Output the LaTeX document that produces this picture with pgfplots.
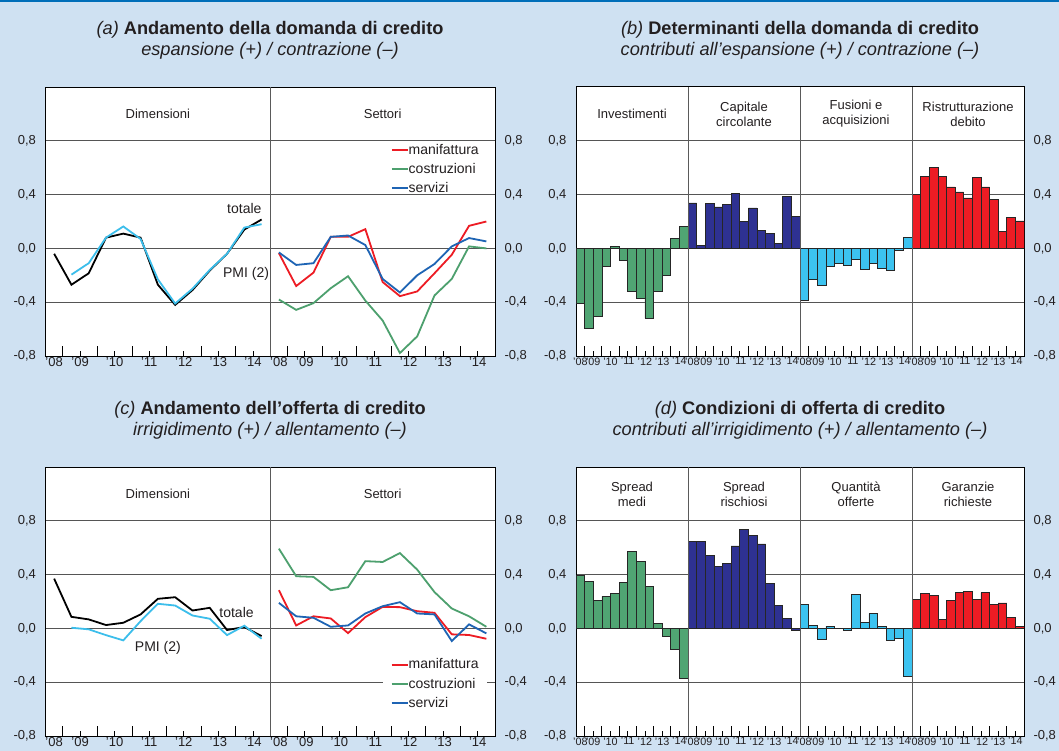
\documentclass[border=0pt]{standalone}
\usepackage{fontspec}
\setmainfont{Liberation Sans}
\usepackage{pgfplots}
\pgfplotsset{compat=1.18}
\definecolor{bgc}{RGB}{207,225,242}
\definecolor{topc}{RGB}{0,110,185}
\definecolor{gridc}{RGB}{85,85,85}
\definecolor{divc}{RGB}{90,90,90}
\definecolor{mred}{RGB}{237,28,36}
\definecolor{mgreen}{RGB}{77,160,110}
\definecolor{mblue}{RGB}{30,100,180}
\definecolor{pmic}{RGB}{60,190,235}
\definecolor{bgreen}{RGB}{80,165,115}
\definecolor{bdblue}{RGB}{46,49,146}
\definecolor{blblue}{RGB}{60,195,240}
\definecolor{bred}{RGB}{237,28,36}
\definecolor{txt}{RGB}{35,31,32}
\newcommand{\fsz}[2]{\fontsize{#1pt}{#2pt}\selectfont}
\tikzset{hdr/.style={font=\fsz{13}{15}, align=center, text=txt},
         tk/.style={black, line width=0.8pt}}
\newcommand{\longticks}[1]{\pgfplotsinvokeforeach{#1}{\draw[tk] (axis cs:##1,-0.8) -- (axis cs:##1,-0.726);}}
\newcommand{\shortticks}[1]{\pgfplotsinvokeforeach{#1}{\draw[tk] (axis cs:##1,-0.8) -- (axis cs:##1,-0.763);}}
\pgfplotsset{
 base/.style={
  scale only axis, height=269pt, anchor=south west,
  ymin=-0.8, ymax=1.2,
  ytick={-0.8,-0.4,0,0.4,0.8},
  yticklabels={{-0,8},{-0,4},{0,0},{0,4},{0,8}},
  ymajorgrids,
  grid style={line width=0.9pt, color=gridc},
  ytick style={draw=none},
  yticklabel style={font=\fsz{13}{15}, xshift=-6pt, text=txt},
  axis line style={line width=1pt, black},
  axis background/.style={fill=white},
  xtick pos=left,
  xtick style={draw=none},
  major tick length=0pt,
 },
 rlab/.style={
  scale only axis, height=269pt, anchor=south west,
  ymin=-0.8, ymax=1.2, xmin=0, xmax=1,
  ytick={-0.8,-0.4,0,0.4,0.8},
  yticklabels={{-0,8},{-0,4},{0,0},{0,4},{0,8}},
  yticklabel pos=right,
  ytick style={draw=none},
  xtick=\empty,
  axis line style={draw=none},
  yticklabel style={font=\fsz{13}{15}, xshift=6pt, text=txt},
 },
 linepanel/.style={
  base, width=449.5pt, xmin=-0.5, xmax=25.5,
  xtick={0,1.5,3.5,5.5,7.5,9.5,11.5,13,14.5,16.5,18.5,20.5,22.5,24.5},
  xticklabels={'08,'09,'10,'11,'12,'13,'14,'08,'09,'10,'11,'12,'13,'14},
  xticklabel style={font=\fsz{13}{15}, yshift=2pt, text=txt},
  legend image code/.code={\draw[##1] (0pt,0pt) -- (16pt,0pt);},
 },
 barpanel/.style={
  base, width=448pt, xmin=-0.5, xmax=51.5,
  ybar, bar width=1,
  xtick={0,1.5,3.5,5.5,7.5,9.5,11.5,13,14.5,16.5,18.5,20.5,22.5,24.5,26,27.5,29.5,31.5,33.5,35.5,37.5,39,40.5,42.5,44.5,46.5,48.5,50.5},
  xticklabels={'08,'09,'10,'11,'12,'13,'14,'08,'09,'10,'11,'12,'13,'14,'08,'09,'10,'11,'12,'13,'14,'08,'09,'10,'11,'12,'13,'14},
  xticklabel style={font=\fsz{10.8}{12}, yshift=2pt, text=txt},
 },
 ln/.style={line width=1.8pt, no marks},
 br/.style={draw=black!85, line width=0.6pt, bar shift=0pt},
}
\newcommand{\lineticks}{%
 \longticks{0.5,2.5,4.5,6.5,8.5,10.5,13.5,15.5,17.5,19.5,21.5,23.5}%
 \shortticks{1.5,3.5,5.5,7.5,9.5,11.5,14.5,16.5,18.5,20.5,22.5,24.5}}
\newcommand{\barticks}{%
 \longticks{0.5,2.5,4.5,6.5,8.5,10.5,13.5,15.5,17.5,19.5,21.5,23.5,26.5,28.5,30.5,32.5,34.5,36.5,39.5,41.5,43.5,45.5,47.5,49.5}%
 \shortticks{1.5,3.5,5.5,7.5,9.5,11.5,14.5,16.5,18.5,20.5,22.5,24.5,27.5,29.5,31.5,33.5,35.5,37.5,40.5,42.5,44.5,46.5,48.5,50.5}}
\begin{document}
\begin{tikzpicture}
\useasboundingbox (0,0) rectangle (1059pt,-751pt);
\fill[bgc] (0,0) rectangle (1059pt,-751pt);
\fill[topc] (0,0) rectangle (1059pt,-2pt);

% titles
\node[font=\fsz{18.2}{22}, text=txt] at (270pt,-30pt) {\textit{(a)} \textbf{Andamento della domanda di credito}};
\node[font=\fsz{18.2}{22}\itshape, text=txt] at (270pt,-51pt) {espansione (+) / contrazione (–)};
\node[font=\fsz{18.2}{22}, text=txt] at (800pt,-30pt) {\textit{(b)} \textbf{Determinanti della domanda di credito}};
\node[font=\fsz{18.2}{22}\itshape, text=txt] at (800pt,-51pt) {contributi all’espansione (+) / contrazione (–)};
\node[font=\fsz{18.2}{22}, text=txt] at (270pt,-410pt) {\textit{(c)} \textbf{Andamento dell’offerta di credito}};
\node[font=\fsz{18.2}{22}\itshape, text=txt] at (270pt,-431pt) {irrigidimento (+) / allentamento (–)};
\node[font=\fsz{18.2}{22}, text=txt] at (800pt,-410pt) {\textit{(d)} \textbf{Condizioni di offerta di credito}};
\node[font=\fsz{18.2}{22}\itshape, text=txt] at (800pt,-431pt) {contributi all’irrigidimento (+) / allentamento (–)};

% ---------- (a)
\begin{axis}[linepanel, at={(45.5pt,-356pt)},
  legend style={at={(0.768,0.792)}, anchor=north west, draw=none, fill=none,
   font=\fsz{14}{16}, inner sep=0pt, row sep=5.5pt, nodes={inner xsep=0pt, inner ysep=1pt}, cells={anchor=west}, text=txt}]
\addplot[ln, black, forget plot] coordinates {(0,-0.04)(1,-0.27)(2,-0.185)(3,0.08)(4,0.11)(5,0.08)(6,-0.27)(7,-0.42)(8,-0.31)(9,-0.165)(10,-0.04)(11,0.14)(12,0.215)};
\addplot[ln, pmic, forget plot] coordinates {(1,-0.195)(2,-0.11)(3,0.08)(4,0.163)(5,0.07)(6,-0.23)(7,-0.41)(8,-0.30)(9,-0.16)(10,-0.04)(11,0.155)(12,0.18)};
\addplot[ln, mred] coordinates {(13,-0.035)(14,-0.28)(15,-0.18)(16,0.086)(17,0.086)(18,0.143)(19,-0.25)(20,-0.355)(21,-0.32)(22,-0.185)(23,-0.047)(24,0.168)(25,0.2)};
\addlegendentry{manifattura}
\addplot[ln, mgreen] coordinates {(13,-0.38)(14,-0.457)(15,-0.407)(16,-0.296)(17,-0.207)(18,-0.388)(19,-0.536)(20,-0.778)(21,-0.654)(22,-0.35)(23,-0.227)(24,0.015)(25,0.0)};
\addlegendentry{costruzioni}
\addplot[ln, mblue] coordinates {(13,-0.03)(14,-0.123)(15,-0.11)(16,0.086)(17,0.096)(18,0.025)(19,-0.227)(20,-0.328)(21,-0.2)(22,-0.116)(23,0.015)(24,0.077)(25,0.052)};
\addlegendentry{servizi}
\draw[line width=1pt, color=divc] (axis cs:12.5,-0.8) -- (axis cs:12.5,1.2);
\lineticks
\node[hdr] at (axis cs:6,1.0) {Dimensioni};
\node[hdr] at (axis cs:19,1.0) {Settori};
\node[font=\fsz{14}{16}, text=txt] at (axis cs:11.0,0.296) {totale};
\node[font=\fsz{14}{16}, text=txt] at (axis cs:11.1,-0.193) {PMI (2)};
\end{axis}
\begin{axis}[rlab, width=449.5pt, at={(45.5pt,-356pt)}]
\end{axis}

% ---------- (b)
\begin{axis}[barpanel, at={(576pt,-356pt)}]
\addplot[br, fill=bgreen] coordinates {(0,-0.407)(1,-0.593)(2,-0.506)(3,-0.136)(4,0.012)(5,-0.09)(6,-0.316)(7,-0.373)(8,-0.518)(9,-0.316)(10,-0.197)(11,0.074)(12,0.165)};
\addplot[br, fill=bdblue] coordinates {(13,0.338)(14,0.02)(15,0.333)(16,0.309)(17,0.326)(18,0.407)(19,0.202)(20,0.301)(21,0.131)(22,0.109)(23,0.04)(24,0.385)(25,0.237)};
\addplot[br, fill=blblue] coordinates {(26,-0.388)(27,-0.23)(28,-0.272)(29,-0.131)(30,-0.109)(31,-0.126)(32,-0.079)(33,-0.156)(34,-0.109)(35,-0.151)(36,-0.16)(37,-0.012)(38,0.081)};
\addplot[br, fill=bred] coordinates {(39,0.4)(40,0.538)(41,0.6)(42,0.538)(43,0.457)(44,0.42)(45,0.375)(46,0.526)(47,0.457)(48,0.363)(49,0.128)(50,0.23)(51,0.205)};
\draw[line width=1pt, color=divc] (axis cs:12.5,-0.8) -- (axis cs:12.5,1.2);
\draw[line width=1pt, color=divc] (axis cs:25.5,-0.8) -- (axis cs:25.5,1.2);
\draw[line width=1pt, color=divc] (axis cs:38.5,-0.8) -- (axis cs:38.5,1.2);
\barticks
\node[hdr] at (axis cs:6,1.0) {Investimenti};
\node[hdr] at (axis cs:19,1.0) {Capitale\\circolante};
\node[hdr] at (axis cs:32,1.0) {Fusioni e\\acquisizioni};
\node[hdr] at (axis cs:45,1.0) {Ristrutturazione\\debito};
\end{axis}
\begin{axis}[rlab, width=448pt, at={(576pt,-356pt)}]
\end{axis}

% ---------- (c)
\begin{axis}[linepanel, at={(45.5pt,-736pt)},
  legend style={at={(0.750,0.295)}, anchor=north west, draw=none, fill=white,
   font=\fsz{14}{16}, inner xsep=8pt, inner ysep=1pt, row sep=5.5pt, nodes={inner xsep=0pt, inner ysep=1pt}, cells={anchor=west}, text=txt}]
\addplot[ln, black, forget plot] coordinates {(0,0.37)(1,0.086)(2,0.067)(3,0.025)(4,0.042)(5,0.104)(6,0.22)(7,0.232)(8,0.133)(9,0.153)(10,-0.012)(11,0.01)(12,-0.057)};
\addplot[ln, pmic, forget plot] coordinates {(1,0.005)(2,-0.007)(3,-0.05)(4,-0.089)(5,0.054)(6,0.183)(7,0.17)(8,0.096)(9,0.072)(10,-0.05)(11,0.02)(12,-0.077)};
\addplot[ln, mred] coordinates {(13,0.284)(14,0.022)(15,0.09)(16,0.074)(17,-0.035)(18,0.084)(19,0.16)(20,0.158)(21,0.128)(22,0.116)(23,-0.044)(24,-0.049)(25,-0.077)};
\addlegendentry{manifattura}
\addplot[ln, mgreen] coordinates {(13,0.593)(14,0.388)(15,0.383)(16,0.284)(17,0.306)(18,0.5)(19,0.494)(20,0.56)(21,0.437)(22,0.27)(23,0.148)(24,0.09)(25,0.012)};
\addlegendentry{costruzioni}
\addplot[ln, mblue] coordinates {(13,0.19)(14,0.09)(15,0.079)(16,0.012)(17,0.022)(18,0.111)(19,0.165)(20,0.195)(21,0.111)(22,0.104)(23,-0.094)(24,0.03)(25,-0.037)};
\addlegendentry{servizi}
\draw[line width=1pt, color=divc] (axis cs:12.5,-0.8) -- (axis cs:12.5,1.2);
\lineticks
\node[hdr] at (axis cs:6,1.0) {Dimensioni};
\node[hdr] at (axis cs:19,1.0) {Settori};
\node[font=\fsz{14}{16}, text=txt] at (axis cs:10.55,0.118) {totale};
\node[font=\fsz{14}{16}, text=txt] at (axis cs:6.0,-0.148) {PMI (2)};
\end{axis}
\begin{axis}[rlab, width=449.5pt, at={(45.5pt,-736pt)}]
\end{axis}

% ---------- (d)
\begin{axis}[barpanel, at={(576pt,-736pt)}]
\addplot[br, fill=bgreen] coordinates {(0,0.392)(1,0.347)(2,0.206)(3,0.238)(4,0.263)(5,0.342)(6,0.573)(7,0.496)(8,0.313)(9,0.037)(10,-0.062)(11,-0.154)(12,-0.372)};
\addplot[br, fill=bdblue] coordinates {(13,0.645)(14,0.648)(15,0.541)(16,0.459)(17,0.484)(18,0.613)(19,0.739)(20,0.692)(21,0.628)(22,0.333)(23,0.174)(24,0.074)(25,-0.012)};
\addplot[br, fill=blblue] coordinates {(26,0.181)(27,0.02)(28,-0.084)(29,0.017)(30,-0.002)(31,-0.012)(32,0.251)(33,0.045)(34,0.109)(35,0.015)(36,-0.092)(37,-0.074)(38,-0.357)};
\addplot[br, fill=bred] coordinates {(39,0.213)(40,0.263)(41,0.248)(42,0.067)(43,0.211)(44,0.266)(45,0.273)(46,0.216)(47,0.266)(48,0.176)(49,0.189)(50,0.082)(51,0.012)};
\draw[line width=1pt, color=divc] (axis cs:12.5,-0.8) -- (axis cs:12.5,1.2);
\draw[line width=1pt, color=divc] (axis cs:25.5,-0.8) -- (axis cs:25.5,1.2);
\draw[line width=1pt, color=divc] (axis cs:38.5,-0.8) -- (axis cs:38.5,1.2);
\barticks
\node[hdr] at (axis cs:6,1.0) {Spread\\medi};
\node[hdr] at (axis cs:19,1.0) {Spread\\rischiosi};
\node[hdr] at (axis cs:32,1.0) {Quantità\\offerte};
\node[hdr] at (axis cs:45,1.0) {Garanzie\\richieste};
\end{axis}
\begin{axis}[rlab, width=448pt, at={(576pt,-736pt)}]
\end{axis}
\end{tikzpicture}
\end{document}
